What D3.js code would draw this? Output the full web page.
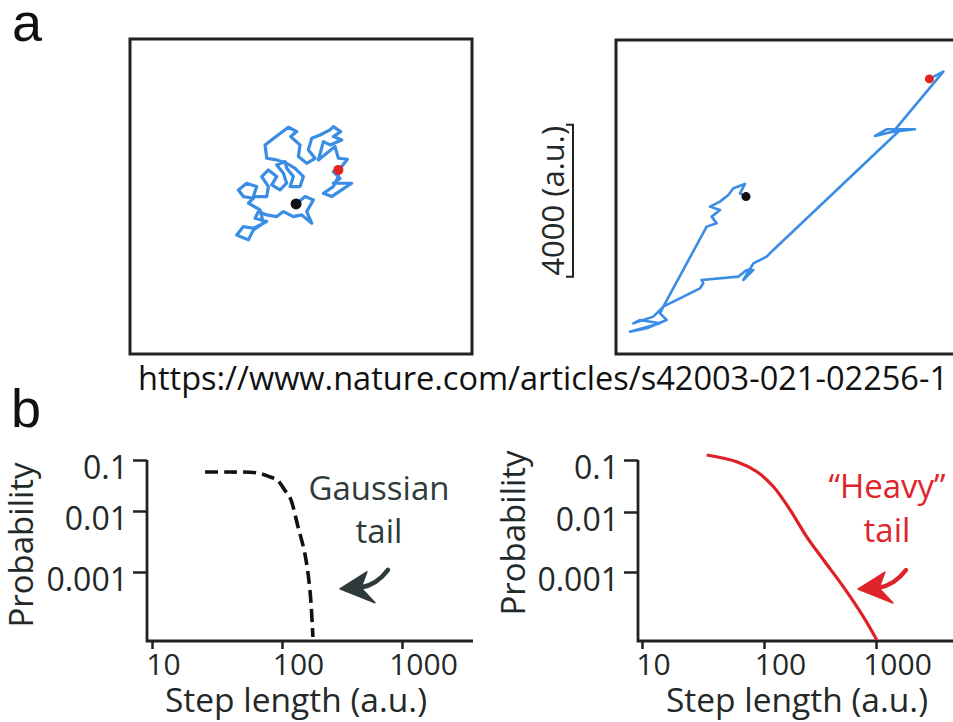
<!DOCTYPE html>
<html>
<head>
<meta charset="utf-8">
<script src="https://cdn.jsdelivr.net/npm/d3@7"></script>
<style>
  body { margin: 0; background: #fff; }
  svg { display: block; }
</style>
</head>
<body>
<div id="chart"></div>
<script>
// Random walk traces, in a.u., relative to the start point (black dot)
const walkBrownian = [
  [0,0],[237,193],[456,105],[281,-202],[412,-509],[149,-289],[-70,-333],[-333,-202],
  [-509,-333],[-772,-289],[-991,-202],[-1079,-377],[-772,-465],[-1123,-640],[-1386,-596],
  [-1561,-816],[-1254,-947],[-1123,-684],[-859,-509],[-947,-158],[-1254,18],[-1123,149],
  [-1386,193],[-1517,368],[-1298,544],[-1035,456],[-1123,193],[-772,193],[-728,456],
  [-903,719],[-728,895],[-509,719],[-640,500],[-421,368],[-246,544],[-333,807],[-509,1026],
  [-289,1114],[-246,938],[-70,719],[-158,456],[105,456],[193,719],[-26,938],[-246,1070],
  [-509,1158],[-772,1201],[-816,1552],[-509,1789],[-202,2017],[18,1903],[-140,1772],
  [105,1552],[61,1245],[281,1070],[500,1201],[324,1421],[412,1728],[631,1815],[895,1947],
  [982,2035],[1175,1903],[982,1772],[1201,1684],[895,1552],[719,1640],[588,1158],[807,1333],
  [1026,1508],[1114,1201],[1351,1175],[1201,982],[982,851],[1158,675],[982,544],[1465,544],
  [1201,368],[938,193],[719,281],[982,456],[1114,719],[1114,895]
];
const walkLevy = [
  [0,0],[-158,88],[-26,333],[-333,219],[-465,44],[-684,-132],[-947,-263],[-684,-351],
  [-903,-526],[-772,-702],[-1035,-789],[-2175,-2894],[-2438,-3157],[-2964,-3333],
  [-2789,-3245],[-2263,-3333],[-3052,-3552],[-2613,-3464],[-2087,-3245],[-2263,-3070],
  [-2175,-2894],[-1210,-2412],[-1123,-2280],[-1166,-2193],[-202,-2105],[18,-1929],
  [193,-1929],[-70,-2193],[193,-1754],[544,-1579],[719,-1403],[4052,1754],[3394,1596],
  [3701,1772],[4446,1772],[3876,1710],[5192,3289],[4824,3096]
];
const scaleBarAU = 4000;

// Step length distributions: [step length (a.u.), probability]
const stepGaussian = [
  [25.6,0.058],[40,0.058],[64,0.056],[80,0.047],[92,0.0405],[105,0.026],[117,0.018],
  [136,0.0055],[155,0.002],[171,0.0005],[181,0.000086]
];
const stepHeavy = [
  [33.9,0.125],[59.7,0.093],[87,0.060],[121,0.031],[171,0.011],[240,0.0039],
  [339,0.0016],[510,0.00057],[770,0.00018],[1014,0.000074]
];
const probTicks = [0.1, 0.01, 0.001];
const stepTicks = [10, 100, 1000];
const sourceUrl = "https://www.nature.com/articles/s42003-021-02256-1";

const W = 953, H = 722;
const FONT = "'Open Sans', 'Noto Sans', sans-serif";
const INK = "#232828";

const svg = d3.select("#chart").append("svg")
  .attr("width", W).attr("height", H)
  .attr("viewBox", `0 0 ${W} ${H}`);

// ---- panel a: trajectories
const walkPanels = [
  { data: walkBrownian, box: [130, 39, 472, 354], xDom: [-4370, 4630], yDom: [-3950, 4340], lw: 3.2, rBlack: 5.5, rRed: 5 },
  { data: walkLevy,     box: [616, 40, 960, 354], xDom: [-3420, 5630], yDom: [-4140, 4120], lw: 2.6, rBlack: 4.5, rRed: 4.5 }
];

const clip = svg.append("defs").append("clipPath").attr("id", "pageclip");
clip.append("rect").attr("width", W).attr("height", H);

walkPanels.forEach(p => {
  const [x0, y0, x1, y1] = p.box;
  p.x = d3.scaleLinear().domain(p.xDom).range([x0, x1]);
  p.y = d3.scaleLinear().domain(p.yDom).range([y1, y0]);

  const g = svg.append("g").attr("clip-path", "url(#pageclip)");
  g.append("rect")
    .attr("x", x0).attr("y", y0)
    .attr("width", x1 - x0).attr("height", y1 - y0)
    .attr("fill", "none").attr("stroke", "#222").attr("stroke-width", 3);

  g.append("path")
    .datum(p.data)
    .attr("d", d3.line().x(d => p.x(d[0])).y(d => p.y(d[1])))
    .attr("fill", "none")
    .attr("stroke", "#3a8de4")
    .attr("stroke-width", p.lw)
    .attr("stroke-linejoin", "round");

  const first = p.data[0], last = p.data[p.data.length - 1];
  g.append("circle").attr("cx", p.x(first[0])).attr("cy", p.y(first[1])).attr("r", p.rBlack).attr("fill", "#111");
  g.append("circle").attr("cx", p.x(last[0])).attr("cy", p.y(last[1])).attr("r", p.rRed).attr("fill", "#e3231f");
});

// scale bar next to the second panel
const yLevy = walkPanels[1].y;
const barX = 573, barLo = -2110;
svg.append("path")
  .attr("d", `M${barX - 7},${yLevy(barLo)} H${barX} V${yLevy(barLo + scaleBarAU)} H${barX - 7}`)
  .attr("fill", "none").attr("stroke", "#222").attr("stroke-width", 2);
svg.append("text")
  .attr("transform", `translate(564,${(yLevy(barLo) + yLevy(barLo + scaleBarAU)) / 2}) rotate(-90)`)
  .attr("text-anchor", "middle")
  .style("font-family", FONT).style("font-size", "31px").style("fill", INK)
  .text(`${scaleBarAU} (a.u.)`);

// panel letters + source
svg.append("text").attr("x", 12).attr("y", 41)
  .style("font-family", "'Liberation Sans', Arial, sans-serif").style("font-size", "54px").style("fill", "#111")
  .text("a");
svg.append("text").attr("x", 11).attr("y", 427)
  .style("font-family", "'Liberation Sans', Arial, sans-serif").style("font-size", "54px").style("fill", "#111")
  .text("b");
svg.append("text").attr("x", 138).attr("y", 390)
  .attr("textLength", 810).attr("lengthAdjust", "spacingAndGlyphs")
  .style("font-family", FONT).style("font-size", "32px").style("fill", "#111")
  .text(sourceUrl);

// ---- panel b: step length distributions
const distPanels = [
  {
    data: stepGaussian, color: "#111", dash: "13,6", textColor: "#2f3b3b",
    xRange: [152, 282, 402], yRange: [460, 511, 572], axisX: 147, axisEnd: 473, axisY: 641,
    note: ["Gaussian", "tail"], noteX: 379, noteY: [500, 543], arrowTip: [304, 0.00053],
    yTitle: [33, 545], xTitle: [296, 712]
  },
  {
    data: stepHeavy, color: "#de1f26", dash: null, textColor: "#e0242b",
    xRange: [642, 764, 876], yRange: [460, 512, 572], axisX: 638, axisEnd: 960, axisY: 641,
    note: ["\u201cHeavy\u201d", "tail"], noteX: 887, noteY: [498, 542], arrowTip: [690, 0.00052],
    yTitle: [525, 533], xTitle: [797, 712]
  }
];

distPanels.forEach(p => {
  const x = d3.scaleLog().domain(stepTicks).range(p.xRange);
  const y = d3.scaleLog().domain(probTicks).range(p.yRange);
  const g = svg.append("g").attr("clip-path", "url(#pageclip)");

  const gy = g.append("g")
    .attr("transform", `translate(${p.axisX},0)`)
    .call(d3.axisLeft(y).tickValues(probTicks).tickFormat(d => String(d)).tickSize(14).tickPadding(5).tickSizeOuter(0));
  gy.select(".domain").remove();
  gy.selectAll(".tick line").attr("stroke", "#222").attr("stroke-width", 2.5);
  gy.selectAll("text").attr("dy", "0.58em")
    .style("font-family", FONT).style("font-size", "32px").style("fill", INK);

  const gx = g.append("g")
    .attr("transform", `translate(0,${p.axisY})`)
    .call(d3.axisBottom(x).tickValues(stepTicks).tickFormat(d3.format("d")).tickSize(8).tickPadding(5).tickSizeOuter(0));
  gx.select(".domain").remove();
  gx.selectAll(".tick line").attr("stroke", "#222").attr("stroke-width", 2.5);
  gx.selectAll("text").attr("dx", d => 6 + 5 * Math.log10(d))
    .style("font-family", FONT).style("font-size", "30px").style("fill", INK);

  g.append("path")
    .attr("d", `M${p.axisX},${y(probTicks[0])} V${p.axisY} H${p.axisEnd}`)
    .attr("fill", "none").attr("stroke", "#222").attr("stroke-width", 2.8);

  g.append("path")
    .datum(p.data)
    .attr("d", d3.line().x(d => x(d[0])).y(d => y(d[1])).curve(d3.curveCatmullRom))
    .attr("fill", "none")
    .attr("stroke", p.color)
    .attr("stroke-width", p.dash ? 3.6 : 3.2)
    .attr("stroke-dasharray", p.dash);

  // annotation
  p.note.forEach((t, i) => {
    g.append("text").attr("x", p.noteX).attr("y", p.noteY[i])
      .attr("text-anchor", "middle")
      .style("font-family", FONT).style("font-size", "33px").style("fill", p.textColor)
      .text(t);
  });
  const arrow = g.append("g")
    .attr("transform", `translate(${x(p.arrowTip[0])},${y(p.arrowTip[1])})`);
  arrow.append("path")
    .attr("d", "M0,0 L27,-17 L21,-1 L35,14 Z")
    .attr("fill", p.textColor).attr("stroke", p.textColor).attr("stroke-width", 1.5).attr("stroke-linejoin", "round");
  arrow.append("path")
    .attr("d", "M20,-1 Q37,-4 48,-19")
    .attr("fill", "none").attr("stroke", p.textColor).attr("stroke-width", 4.5).attr("stroke-linecap", "round");

  // titles
  g.append("text")
    .attr("transform", `translate(${p.yTitle[0]},${p.yTitle[1]}) rotate(-90)`)
    .attr("text-anchor", "middle")
    .style("font-family", FONT).style("font-size", "33px").style("fill", INK)
    .text("Probability");
  g.append("text")
    .attr("x", p.xTitle[0]).attr("y", p.xTitle[1])
    .attr("text-anchor", "middle")
    .style("font-family", FONT).style("font-size", "33.5px").style("fill", INK)
    .text("Step length (a.u.)");
});
</script>
</body>
</html>
